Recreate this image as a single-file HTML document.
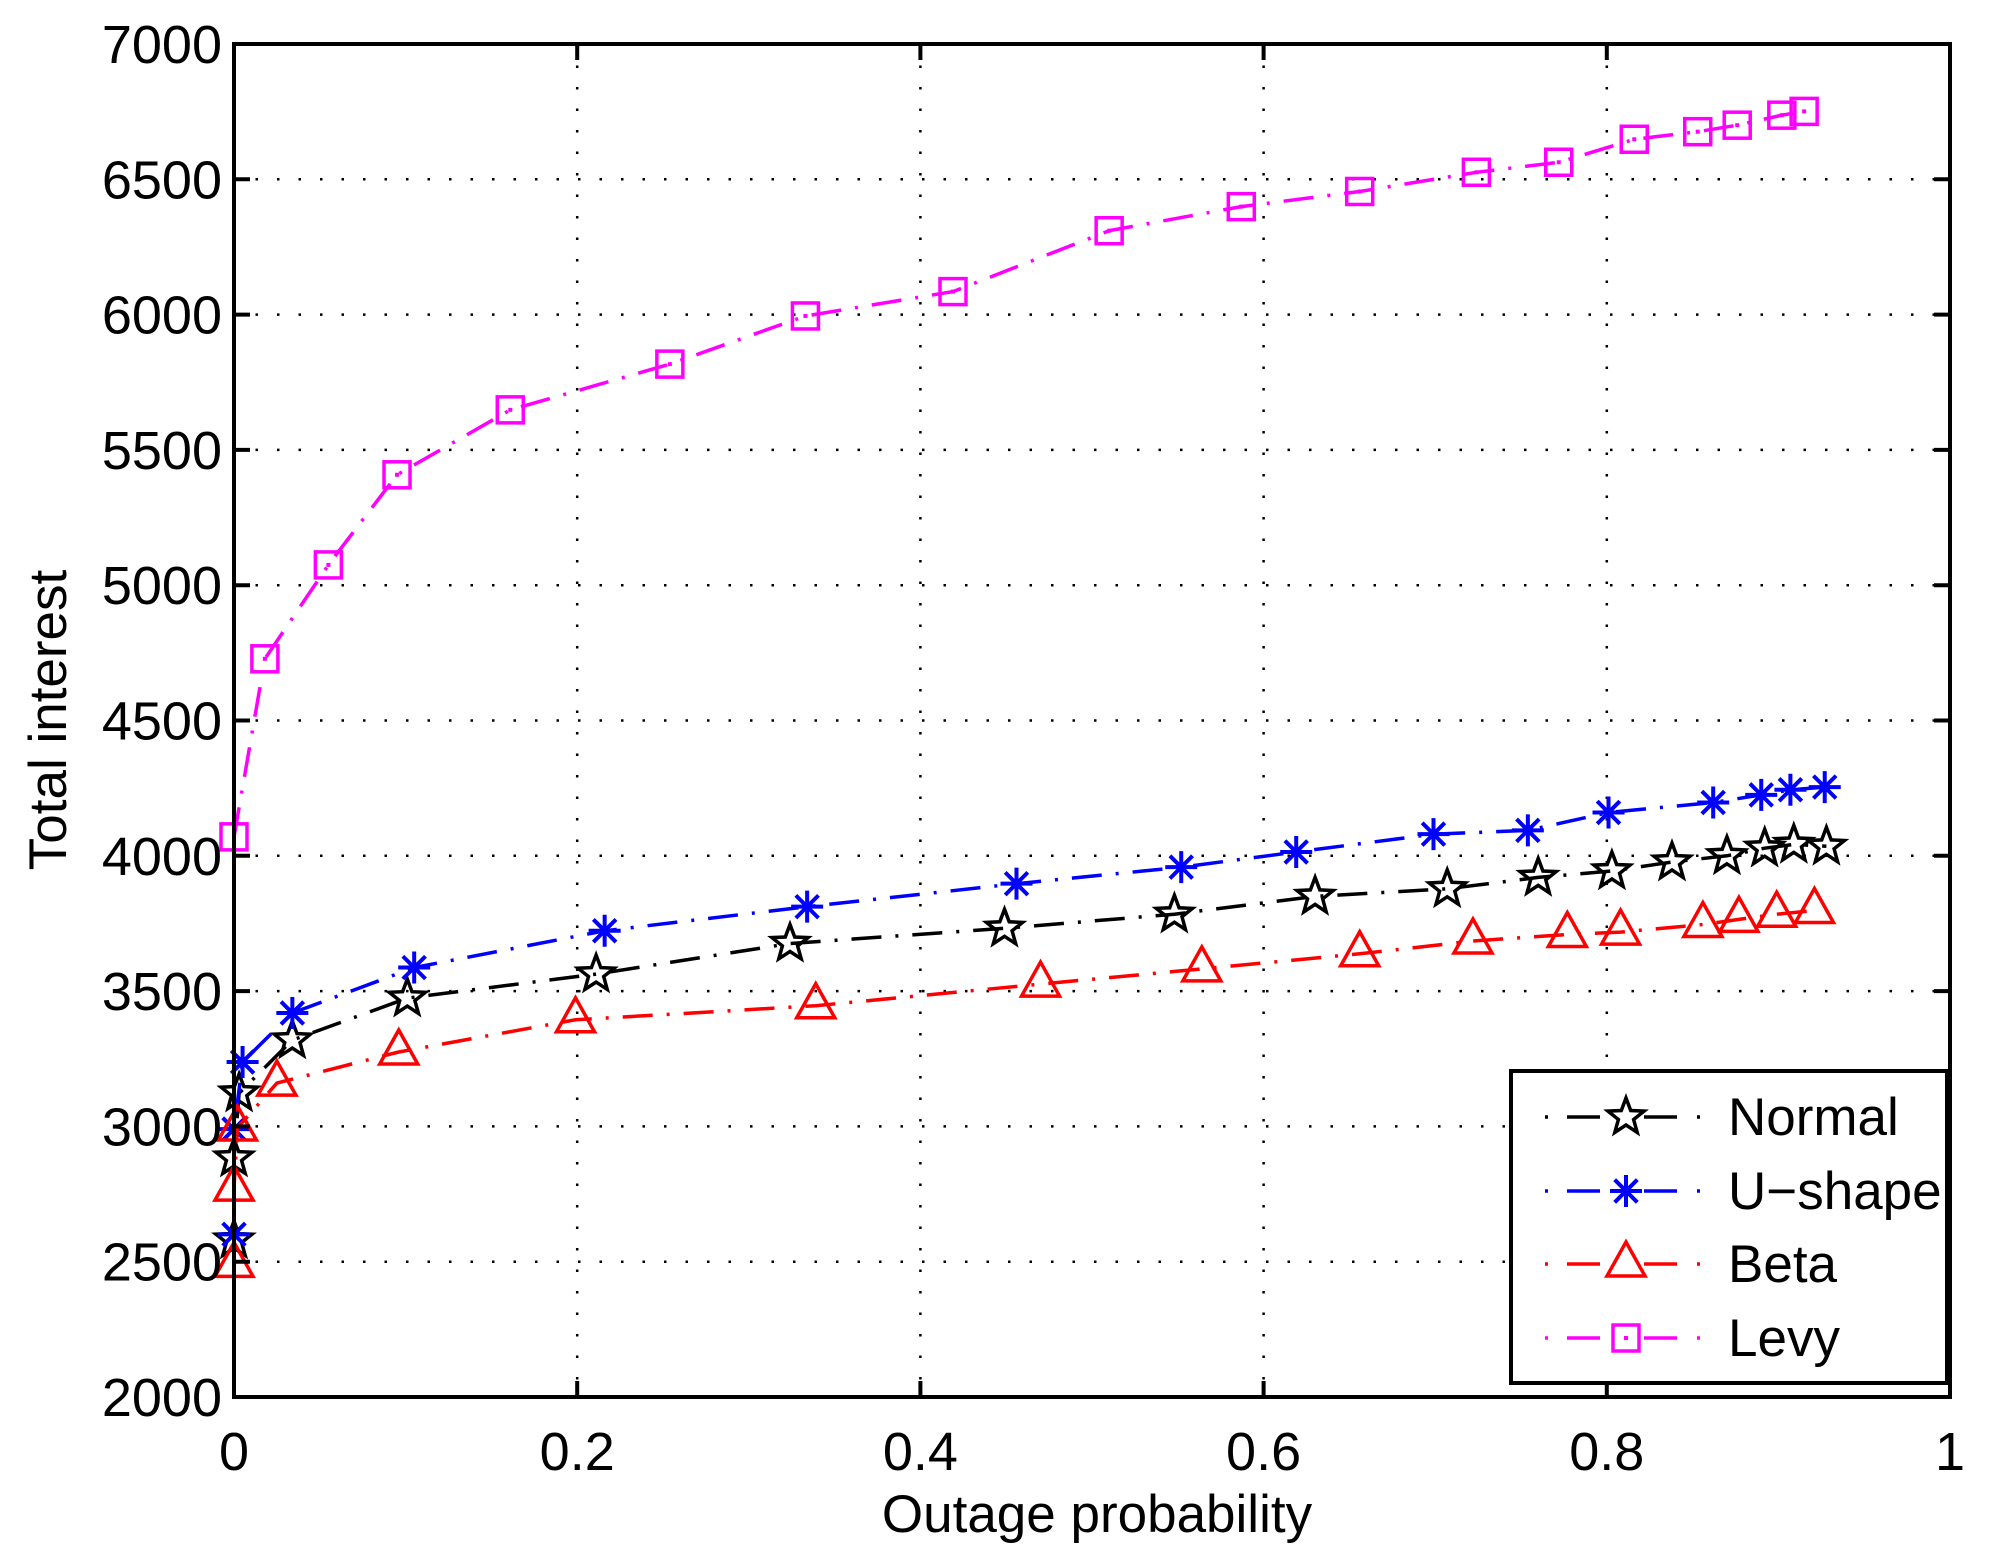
<!DOCTYPE html>
<html><head><meta charset="utf-8"><style>
html,body{margin:0;padding:0;background:#fff;}
svg{display:block;font-family:"Liberation Sans",Arial,sans-serif;}
</style></head><body>
<svg id="chart" width="1990" height="1557" viewBox="0 0 1990 1557" xmlns="http://www.w3.org/2000/svg">
<rect width="1990" height="1557" fill="#fff"/>
<g id="grid"></g>
<g id="series"></g>
<rect x="234" y="44" width="1716" height="1353" fill="none" stroke="#000" stroke-width="4"/>
<g id="ticks"></g>
<text x="1097" y="1532" font-size="53" text-anchor="middle">Outage probability</text>
<text transform="translate(66,720) rotate(-90)" font-size="53" text-anchor="middle">Total interest</text>
<g id="legend"></g>
</svg>
<script>
const xTicks=[0,0.2,0.4,0.6,0.8,1];
const xTickLabels=["0","0.2","0.4","0.6","0.8","1"];
const yTicks=[2000,2500,3000,3500,4000,4500,5000,5500,6000,6500,7000];
const yTickLabels=["2000","2500","3000","3500","4000","4500","5000","5500","6000","6500","7000"];
const seriesNames=["Normal","U\u2212shape","Beta","Levy"];
const normalX=[0,0,0.003,0.034,0.101,0.211,0.324,0.449,0.548,0.63,0.707,0.76,0.803,0.838,0.87,0.892,0.909,0.928];
const normalY=[2580,2883,3123,3319,3474,3563,3676,3732,3784,3850,3878,3920,3944,3977,4000,4028,4042,4035];
const ushapeX=[0,0,0.005,0.034,0.105,0.216,0.334,0.456,0.552,0.619,0.699,0.754,0.801,0.862,0.89,0.907,0.927];
const ushapeY=[2601,2990,3238,3419,3587,3723,3812,3897,3958,4014,4080,4094,4160,4197,4225,4244,4254];
const betaX=[0,0,0.002,0.025,0.096,0.199,0.339,0.47,0.564,0.656,0.722,0.777,0.808,0.856,0.877,0.899,0.921];
const betaY=[2490,2772,2994,3160,3275,3394,3446,3526,3582,3638,3685,3709,3718,3746,3765,3784,3798];
const levyX=[0,0.018,0.055,0.095,0.161,0.254,0.333,0.419,0.51,0.587,0.656,0.724,0.772,0.816,0.853,0.876,0.902,0.915];
const levyY=[4070,4728,5075,5408,5648,5817,5995,6085,6310,6399,6455,6526,6563,6648,6676,6700,6737,6751];

const NS="http://www.w3.org/2000/svg";
const X0=234,X1=1950,Y0=1397,Y1=44;
function sx(v){return X0+(v-0)/(1-0)*(X1-X0);}
function sy(v){return Y0-(v-2000)/(7000-2000)*(Y0-Y1);}
function mk(tag,attrs,parent){const e=document.createElementNS(NS,tag);for(const k in attrs)e.setAttribute(k,attrs[k]);parent.appendChild(e);return e;}
const grid=document.getElementById('grid'),ticks=document.getElementById('ticks'),ser=document.getElementById('series'),leg=document.getElementById('legend');
xTicks.forEach((t,i)=>{
  const x=sx(t);
  if(i>0&&i<xTicks.length-1){const g=mk('line',{x1:x,x2:x,y1:Y1,y2:Y0,stroke:'#000','stroke-width':2.5,'stroke-dasharray':'2.5 19'},grid);
  
  }
  const tk=mk('path',{d:`M${x},${Y0}V${Y0-16}M${x},${Y1}V${Y1+16}`,stroke:'#000','stroke-width':4},ticks);
  
  
  const lb=mk('text',{x:x,y:1470,'font-size':54,'text-anchor':'middle'},ticks);lb.textContent=xTickLabels[i];
  
  
});
yTicks.forEach((t,i)=>{
  const y=sy(t);
  if(i>0&&i<yTicks.length-1){const g=mk('line',{x1:X0,x2:X1,y1:y,y2:y,stroke:'#000','stroke-width':2.5,'stroke-dasharray':'2.5 19'},grid);
  
  }
  const tk=mk('path',{d:`M${X0},${y}H${X0+16}M${X1},${y}H${X1-16}`,stroke:'#000','stroke-width':4},ticks);
  
  
  const lb=mk('text',{x:222,y:y+19,'font-size':54,'text-anchor':'end'},ticks);lb.textContent=yTickLabels[i];
  
  
});
function marker(type,x,y,color,parent){
  let e;
  if(type==='star'){
    let pts=[];for(let k=0;k<10;k++){const r=k%2?8:19,a=-Math.PI/2+k*Math.PI/5;pts.push((x+r*Math.cos(a)).toFixed(1)+','+(y+r*Math.sin(a)).toFixed(1));}
    e=mk('polygon',{points:pts.join(' '),fill:'none',stroke:color,'stroke-width':3.5},parent);
  }else if(type==='ast'){
    let d='';for(let k=0;k<4;k++){const a=k*Math.PI/4,r=16;d+=`M${x-r*Math.cos(a)},${y-r*Math.sin(a)}L${x+r*Math.cos(a)},${y+r*Math.sin(a)}`;}
    e=mk('path',{d:d,stroke:color,'stroke-width':4},parent);
  }else if(type==='tri'){
    e=mk('polygon',{points:`${x},${y-22} ${x+19},${y+12} ${x-19},${y+12}`,fill:'none',stroke:color,'stroke-width':3.5},parent);
  }else{
    e=mk('rect',{x:x-13,y:y-13,width:26,height:26,fill:'none',stroke:color,'stroke-width':3.5},parent);
    mk('rect',{x:x-2,y:y-2,width:4,height:4,fill:color},parent);
  }
  return e;
}
const defs=[
  {name:'normal',xs:normalX,ys:normalY,color:'#000',m:'star'},
  {name:'u-shape',xs:ushapeX,ys:ushapeY,color:'#0000ff',m:'ast'},
  {name:'beta',xs:betaX,ys:betaY,color:'#ff0000',m:'tri'},
  {name:'levy',xs:levyX,ys:levyY,color:'#ff00ff',m:'sq'}
];
defs.forEach((s,si)=>{
  const g=mk('g',{},ser);
  
  
  const pts=s.xs.map((v,i)=>sx(v).toFixed(1)+','+sy(s.ys[i]).toFixed(1)).join(' ');
  const pl=mk('polyline',{points:pts,fill:'none',stroke:s.color,'stroke-width':3.5,'stroke-dasharray':'30 14 3 14'},g);
  
  
  s.xs.forEach((v,i)=>{const m=marker(s.m,sx(v),sy(s.ys[i]),s.color,g);
    
    });
});
const box=mk('rect',{x:1511,y:1071,width:436,height:312,fill:'#fff',stroke:'#000','stroke-width':4},leg);


const rowY=[1117,1191,1264,1338];
defs.forEach((s,i)=>{
  const g=mk('g',{},leg);
  
  
  const y=rowY[i];
  mk('path',{d:`M1545,${y}h3M1567,${y}h33M1644,${y}h33M1697,${y}h3`,stroke:s.color,'stroke-width':3.5},g);
  marker(s.m,1626,y,s.color,g);
  const t=mk('text',{x:1728,y:y+18,'font-size':53},g);t.textContent=seriesNames[i];
});
</script>
</body></html>
